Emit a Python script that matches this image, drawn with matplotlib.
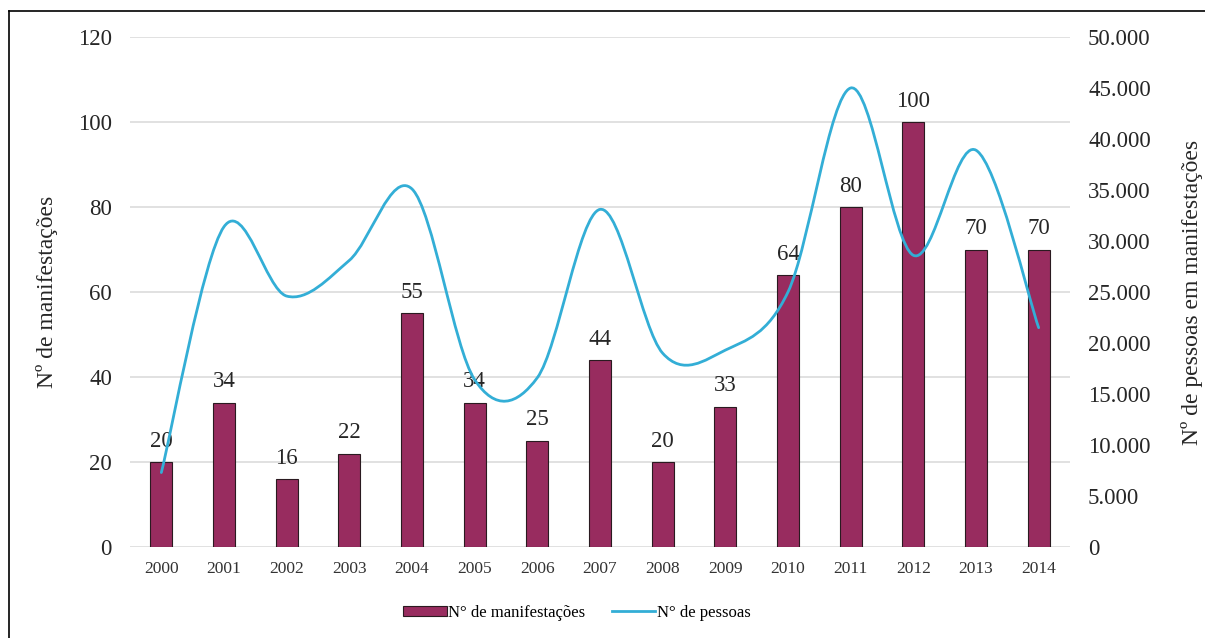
import matplotlib
matplotlib.use('Agg')
import matplotlib.pyplot as plt
from matplotlib.lines import Line2D
from matplotlib.patches import Patch, PathPatch
from matplotlib.path import Path
from matplotlib.ticker import FuncFormatter

plt.rcParams['font.family'] = ['Liberation Serif', 'DejaVu Serif']

years = ['2000', '2001', '2002', '2003', '2004', '2005', '2006', '2007',
         '2008', '2009', '2010', '2011', '2012', '2013', '2014']
manifestacoes = [20, 34, 16, 22, 55, 34, 25, 44, 20, 33, 64, 80, 100, 70, 70]
pessoas = [7300, 31400, 24600, 28100, 35100, 16400, 16600, 33100,
           19000, 19300, 25000, 45000, 28600, 38900, 21500]

BAR_COLOR = '#982c5f'
LINE_COLOR = '#33aed6'
TEXT_COLOR = '#262626'


def smooth_path(xs, ys):
    # Bezier segments like Excel's "smoothed line"
    n = len(xs)
    verts = [(xs[0], ys[0])]
    codes = [Path.MOVETO]
    for i in range(n - 1):
        x0, y0 = xs[max(i - 1, 0)], ys[max(i - 1, 0)]
        x1, y1 = xs[i], ys[i]
        x2, y2 = xs[i + 1], ys[i + 1]
        x3, y3 = xs[min(i + 2, n - 1)], ys[min(i + 2, n - 1)]
        c1 = (x1 + (x2 - x0) / 6, y1 + (y2 - y0) / 6)
        c2 = (x2 - (x3 - x1) / 6, y2 - (y3 - y1) / 6)
        verts += [c1, c2, (x2, y2)]
        codes += [Path.CURVE4] * 3
    return Path(verts, codes)


fig = plt.figure(figsize=(12.05, 6.38), dpi=100)
ax = fig.add_axes([130 / 1205, 1 - 547 / 638, 940 / 1205, 510 / 638])
ax2 = ax.twinx()

xpos = list(range(len(years)))
bars = ax.bar(xpos, manifestacoes, width=0.35, color=BAR_COLOR,
              edgecolor='#2a1a20', linewidth=0.8, zorder=3)
for x, v in zip(xpos, manifestacoes):
    ax.annotate(str(v), (x, v), xytext=(0, 7.5), textcoords='offset points',
                ha='center', va='bottom', fontsize=16.5, color=TEXT_COLOR,
                zorder=4)

ax.set_xlim(-0.5, len(years) - 0.5)
ax.set_ylim(0, 120)
ax.set_yticks(range(0, 121, 20))
ax.set_xticks(xpos)
ax.set_xticklabels(years, fontsize=12.5, color='#333333')
ax.tick_params(axis='y', labelsize=16.5, labelcolor=TEXT_COLOR, length=0, pad=13)
ax.tick_params(axis='x', length=0, pad=10)
ax.grid(axis='y', color='#d9d9d9', linewidth=1.1, zorder=0)
ax.set_axisbelow(True)
for s in ax.spines.values():
    s.set_visible(False)
ax.set_ylabel('Nº de manifestações', fontsize=17, color=TEXT_COLOR, labelpad=14)

ax2.set_ylim(0, 50000)
ax2.set_yticks(range(0, 50001, 5000))
ax2.yaxis.set_major_formatter(
    FuncFormatter(lambda v, p: '{:,.0f}'.format(v).replace(',', '.')))
ax2.tick_params(axis='y', labelsize=16.5, labelcolor=TEXT_COLOR, length=0, pad=13)
for s in ax2.spines.values():
    s.set_visible(False)
ax2.set_ylabel('Nº de pessoas em manifestações', fontsize=17, color=TEXT_COLOR,
               labelpad=22)
ax2.add_patch(PathPatch(smooth_path(xpos, pessoas), facecolor='none',
                        edgecolor=LINE_COLOR, linewidth=2.0, capstyle='round'))

handles = [Patch(facecolor=BAR_COLOR, edgecolor='#2a1a20', linewidth=0.8),
           Line2D([], [], color=LINE_COLOR, linewidth=2.0)]
fig.legend(handles, ['N° de manifestações', 'N° de pessoas'],
           loc='center', bbox_to_anchor=(577 / 1205, 1 - 613 / 638), ncol=2,
           frameon=False, fontsize=12, handlelength=2.6, handletextpad=0.1,
           columnspacing=1.6, handleheight=0.6)

# outer frame (left and top edges visible)
fig.add_artist(Line2D([9 / 1205, 9 / 1205], [0, 1 - 11 / 638],
                      color='black', linewidth=1.2))
fig.add_artist(Line2D([9 / 1205, 1], [1 - 11 / 638, 1 - 11 / 638],
                      color='black', linewidth=1.2))

fig.savefig('out.png', dpi=100, facecolor='white')
